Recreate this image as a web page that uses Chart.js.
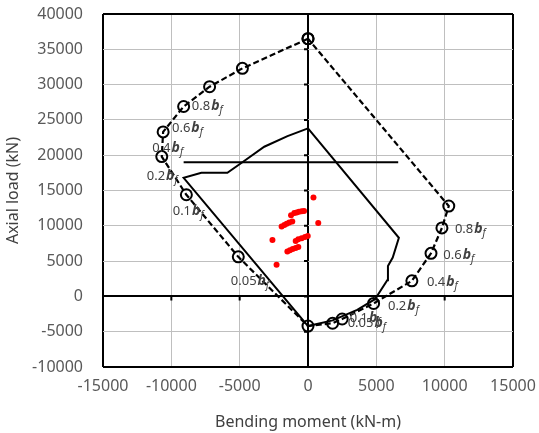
<!DOCTYPE html>
<html lang="en">
<head>
    <meta charset="UTF-8">
    <title>Axial load - bending moment interaction</title>
    <script src="https://cdn.jsdelivr.net/npm/chart.js"></script>
    <style>
        html, body { margin: 0; padding: 0; background: #fff; }
        .chart-box { width: 539px; height: 433px; }
    </style>
</head>
<body>
    <div class="chart-box"><canvas id="pmChart" width="539" height="433"></canvas></div>

    <script>
        // dashed interaction curve with circle markers (kN-m, kN), closed back to the top
        const dashedMoment = [0, -4800, -7200, -9100, -10600, -10700, -8900, -5100, 0, 1800, 2500, 4800, 7600, 9000, 9800, 10300, 0];
        const dashedAxial = [36500, 32300, 29700, 26900, 23300, 19800, 14400, 5600, -4200, -3800, -3200, -1000, 2200, 6100, 9700, 12800, 36500];

        // solid curve
        const solidMoment = [0, -1500, -3200, -4800, -5900, -7800, -9100, 0, 1800, 3600, 4900, 5800, 5850, 6200, 6650, 0];
        const solidAxial = [23800, 22700, 21200, 19000, 17500, 17500, 16800, -4200, -3400, -1900, -400, 2300, 4300, 5500, 8300, 23800];

        // horizontal reference line
        const levelMoment = [-9100, 6600];
        const levelAxial = [19000, 19000];

        // red test points
        const testMoment = [400, 750, -2600, -2300,
            -1240, -1000, -830, -660, -460, -290,
            -1930, -1730, -1560, -1370, -1150,
            -900, -710, -460, -220, -20,
            -1510, -1320, -1120, -900, -710];
        const testAxial = [14000, 10400, 8000, 4500,
            11500, 11800, 11900, 12000, 12050, 12100,
            9900, 10100, 10300, 10450, 10600,
            7850, 8100, 8250, 8400, 8550,
            6350, 6550, 6700, 6850, 7000];

        const xTicks = [-15000, -10000, -5000, 0, 5000, 10000, 15000];
        const yTicks = [-10000, -5000, 0, 5000, 10000, 15000, 20000, 25000, 30000, 35000, 40000];

        // b_f annotations, anchored in data units (left edge, middle)
        const bfText = ["0.8", "0.6", "0.4", "0.2", "0.1", "0.05", "0.8", "0.6", "0.4", "0.2", "0.1", "0.05"];
        const bfMoment = [-8500, -9950, -11400, -11800, -9900, -5650, 10750, 9900, 8700, 5850, 3050, 2900];
        const bfAxial = [26950, 23850, 21000, 17050, 12100, 2200, 9550, 5850, 2050, -1350, -3050, -3750];

        const toPts = (xs, ys) => xs.map((x, i) => ({ x: x, y: ys[i] }));
        const FONT = '"Noto Sans", sans-serif';

        function frameColor(ctx, lo, hi) {
            const v = ctx.tick.value;
            return (v === 0 || v === lo || v === hi) ? "#000" : "#bfbfbf";
        }
        function frameWidth(ctx, lo, hi) {
            const v = ctx.tick.value;
            return (v === 0 || v === lo || v === hi) ? 2 : 1;
        }

        const zeroTicks = {
            id: "zeroTicks",
            beforeDatasetsDraw(chart) {
                const c = chart.ctx, xs = chart.scales.x, ys = chart.scales.y;
                const x0 = xs.getPixelForValue(0), y0 = ys.getPixelForValue(0);
                c.save();
                c.strokeStyle = "#000";
                c.lineWidth = 2;
                c.beginPath();
                yTicks.slice(1, -1).forEach(v => {
                    const p = ys.getPixelForValue(v);
                    c.moveTo(x0 - 4, p); c.lineTo(x0, p);
                });
                xTicks.slice(1, -1).forEach(v => {
                    const p = xs.getPixelForValue(v);
                    c.moveTo(p, y0); c.lineTo(p, y0 + 4);
                });
                c.stroke();
                c.restore();
            }
        };

        const bfLabels = {
            id: "bfLabels",
            afterDatasetsDraw(chart) {
                const c = chart.ctx, xs = chart.scales.x, ys = chart.scales.y;
                c.save();
                c.fillStyle = "#404040";
                c.textBaseline = "middle";
                c.textAlign = "left";
                bfText.forEach((t, i) => {
                    let x = xs.getPixelForValue(bfMoment[i]);
                    const y = ys.getPixelForValue(bfAxial[i]);
                    c.font = "13px " + FONT;
                    c.fillText(t, x, y);
                    x += c.measureText(t).width + 1;
                    c.font = "bold italic 14px " + FONT;
                    c.fillText("b", x, y);
                    x += c.measureText("b").width;
                    c.font = "italic 10px " + FONT;
                    c.fillText("f", x, y + 4);
                });
                c.restore();
            }
        };

        new Chart(document.getElementById("pmChart"), {
            type: "scatter",
            data: {
                datasets: [
                    {
                        label: "Test",
                        data: toPts(testMoment, testAxial),
                        pointRadius: 3,
                        pointBackgroundColor: "#ff0000",
                        pointBorderWidth: 0
                    },
                    {
                        label: "Level",
                        data: toPts(levelMoment, levelAxial),
                        showLine: true,
                        borderColor: "#000",
                        borderWidth: 2,
                        pointRadius: 0
                    },
                    {
                        label: "Solid",
                        data: toPts(solidMoment, solidAxial),
                        showLine: true,
                        borderColor: "#000",
                        borderWidth: 2,
                        pointRadius: 0
                    },
                    {
                        label: "Dashed",
                        data: toPts(dashedMoment, dashedAxial),
                        showLine: true,
                        borderColor: "#000",
                        borderWidth: 2.2,
                        borderDash: [6, 3],
                        pointRadius: 5.5,
                        pointBorderWidth: 2,
                        pointBorderColor: "#000",
                        pointBackgroundColor: "rgba(0,0,0,0)"
                    }
                ]
            },
            options: {
                responsive: false,
                animation: false,
                layout: { padding: { top: 14, right: 26, left: 0, bottom: 0 } },
                plugins: {
                    legend: { display: false },
                    tooltip: { enabled: false }
                },
                scales: {
                    x: {
                        type: "linear",
                        min: -15000,
                        max: 15000,
                        afterBuildTicks: s => { s.ticks = xTicks.map(v => ({ value: v })); },
                        afterFit: s => { s.height = 66; s.paddingLeft = 0; s.paddingRight = 0; },
                        ticks: {
                            callback: v => String(v),
                            color: "#595959",
                            font: { family: FONT, size: 16 },
                            padding: 10,
                            maxRotation: 0,
                            autoSkip: false
                        },
                        grid: {
                            drawTicks: false,
                            color: ctx => frameColor(ctx, -15000, 15000),
                            lineWidth: ctx => frameWidth(ctx, -15000, 15000)
                        },
                        border: { display: false },
                        title: {
                            display: true,
                            text: "Bending moment (kN-m)",
                            color: "#404040",
                            font: { family: FONT, size: 16 },
                            padding: { top: 0, bottom: 1 }
                        }
                    },
                    y: {
                        type: "linear",
                        min: -10000,
                        max: 40000,
                        afterBuildTicks: s => { s.ticks = yTicks.map(v => ({ value: v })); },
                        afterFit: s => { s.width = 103; s.paddingTop = 0; s.paddingBottom = 0; },
                        ticks: {
                            callback: v => String(v),
                            color: "#595959",
                            font: { family: FONT, size: 16 },
                            padding: 20,
                            autoSkip: false
                        },
                        grid: {
                            drawTicks: false,
                            color: ctx => frameColor(ctx, -10000, 40000),
                            lineWidth: ctx => frameWidth(ctx, -10000, 40000)
                        },
                        border: { display: false },
                        title: {
                            display: true,
                            text: "Axial load (kN)",
                            color: "#404040",
                            font: { family: FONT, size: 16 },
                            padding: { top: 4, bottom: 0 }
                        }
                    }
                }
            },
            plugins: [zeroTicks, bfLabels]
        });
    </script>
</body>
</html>
